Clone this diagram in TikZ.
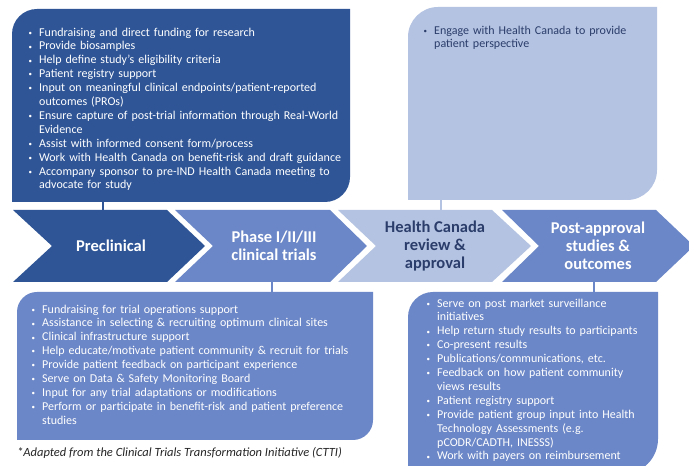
\documentclass[tikz,border=0pt]{standalone}
\usepackage{fontspec}
\setmainfont{Carlito}
\usepackage{enumitem}
\setlist[itemize]{label={\raisebox{0.15ex}{\scriptsize\textbullet}}, leftmargin=12pt, labelsep=7pt, itemsep=0pt, parsep=0pt, topsep=0pt, partopsep=0pt}
\definecolor{cdark}{HTML}{2F5597}
\definecolor{cmid}{HTML}{6C87C7}
\definecolor{clight}{HTML}{B4C3E1}
\definecolor{cnavy}{HTML}{2B3D6B}
\tikzset{
  conn/.style={line width=2.2pt},
  blist/.style={anchor=north west, inner sep=0pt, align=left, font=\fontsize{12}{13.9}\selectfont},
  chevtext/.style={align=center, inner sep=0pt, font=\fontsize{16.5}{18}\selectfont\bfseries},
}
\begin{document}
\begin{tikzpicture}[x=1pt,y=1pt]
\clip (0,0) rectangle (689,466);
\fill[white] (0,0) rectangle (689,466);
% top-left box
\fill[cdark] (12,264) -- (12,432) arc[start angle=180,end angle=90,radius=25] -- (350,457) -- (350,289) arc[start angle=0,end angle=-90,radius=25] -- cycle;
% top-right box
\fill[clight] (408,266) -- (408,429) arc[start angle=180,end angle=90,radius=30] -- (657,459) -- (657,296) arc[start angle=0,end angle=-90,radius=30] -- cycle;
% bottom-left box
\fill[cmid] (17,26) -- (17,154) arc[start angle=180,end angle=90,radius=20] -- (373,174) -- (373,46) arc[start angle=0,end angle=-90,radius=20] -- cycle;
% bottom-right box
\fill[cmid] (408,-8) -- (408,149) arc[start angle=180,end angle=90,radius=25] -- (658,174) -- (658,27) arc[start angle=0,end angle=-90,radius=35] -- cycle;
% chevrons
\fill[cdark] (13,256) -- (167,256) -- (205,220) -- (167,184) -- (13,184) -- (52,220) -- cycle;
\fill[cmid] (175,256) -- (330,256) -- (367,220) -- (330,184) -- (175,184) -- (213,220) -- cycle;
\fill[clight] (338,256) -- (492,256) -- (531,220) -- (492,184) -- (338,184) -- (376,220) -- cycle;
\fill[cmid] (502,256) -- (656,256) -- (694,220) -- (656,184) -- (502,184) -- (539,220) -- cycle;
% connector end points
\coordinate (tlB) at (103,265);
\coordinate (c1T) at (103,255);
\coordinate (trB) at (441,267);
\coordinate (c3T) at (441,255);
\coordinate (c2B) at (272,185);
\coordinate (blT) at (272,173);
\coordinate (c4B) at (594,185);
\coordinate (brT) at (594,173);
\draw[conn, cdark] (tlB) -- (c1T);
\draw[conn, clight] (trB) -- (c3T);
\draw[conn, cmid] (c2B) -- (blT);
\draw[conn, cmid] (c4B) -- (brT);
% chevron labels
\node[chevtext, text=white] (pre) at (111,220) {Preclinical};
\node[chevtext, text=white] (ph) at (274,220) {Phase I/II/III\\clinical trials};
\node[chevtext, text=cnavy] (hc) at (435,220) {Health Canada\\review \&\\approval};
\node[chevtext, text=white] (post) at (598,220) {Post-approval\\studies \&\\outcomes};
% lists
\node[blist, text=white, text width=345pt] (tl) at (27,444) {%
\begin{itemize}
\item Fundraising and direct funding for research
\item Provide biosamples
\item Help define study’s eligibility criteria
\item Patient registry support
\item Input on meaningful clinical endpoints/patient-reported\\outcomes (PROs)
\item Ensure capture of post-trial information through Real-World\\Evidence
\item Assist with informed consent form/process
\item Work with Health Canada on benefit-risk and draft guidance
\item Accompany sponsor to pre-IND Health Canada meeting to\\advocate for study
\end{itemize}};
\node[blist, text=cnavy, text width=250pt] (tr) at (422,446) {%
\begin{itemize}
\item Engage with Health Canada to provide\\patient perspective
\end{itemize}};
\node[blist, text=white, text width=345pt] (bl) at (30,167) {%
\begin{itemize}
\item Fundraising for trial operations support
\item Assistance in selecting \& recruiting optimum clinical sites
\item Clinical infrastructure support
\item Help educate/motivate patient community \& recruit for trials
\item Provide patient feedback on participant experience
\item Serve on Data \& Safety Monitoring Board
\item Input for any trial adaptations or modifications
\item Perform or participate in benefit-risk and patient preference\\studies
\end{itemize}};
\node[blist, text=white, text width=250pt] (br) at (425,173) {%
\begin{itemize}
\item Serve on post market surveillance\\initiatives
\item Help return study results to participants
\item Co-present results
\item Publications/communications, etc.
\item Feedback on how patient community\\views results
\item Patient registry support
\item Provide patient group input into Health\\Technology Assessments (e.g.\\pCODR/CADTH, INESSS)
\item Work with payers on reimbursement
\end{itemize}};
% footnote
\node[anchor=west, inner sep=0pt, font=\fontsize{12.5}{14}\selectfont\itshape, text=black!85] (foot) at (17,13) {*Adapted from the Clinical Trials Transformation Initiative (CTTI)};
\end{tikzpicture}
\end{document}
